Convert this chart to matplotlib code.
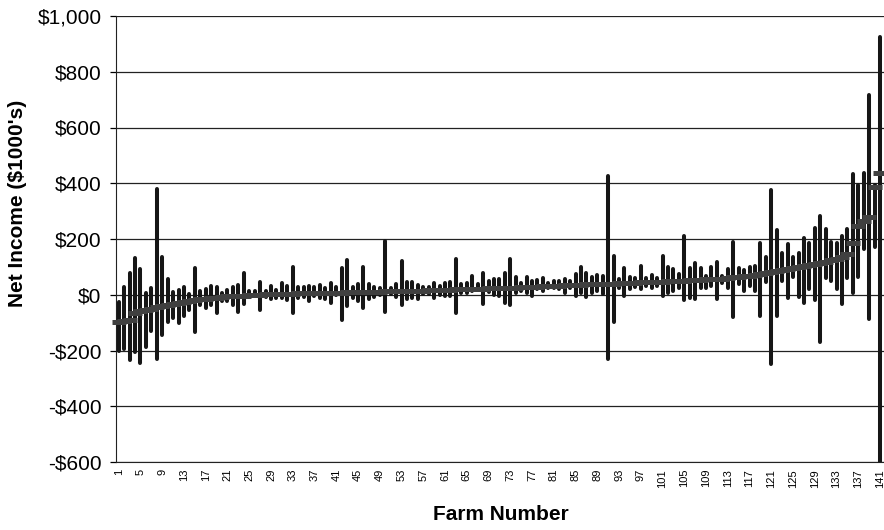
import matplotlib
matplotlib.use("Agg")
import matplotlib.pyplot as plt
from matplotlib.ticker import FuncFormatter, FixedLocator

plt.rcParams['font.family'] = ['Liberation Sans', 'DejaVu Sans']

farms = list(range(1, 142))

high = [-25, 29, 77, 132, 92, 8, 24, 380, 134, 56,
        11, 17, 29, 2, 96, 14, 20, 32, 29, 5,
        17, 29, 35, 77, 12, 12, 47, 14, 32, 17,
        41, 32, 98, 29, 29, 31, 29, 35, 26, 41,
        29, 96, 125, 29, 38, 98, 38, 29, 23, 192,
        23, 38, 122, 44, 44, 36, 29, 29, 41, 32,
        41, 44, 128, 38, 41, 68, 38, 77, 48, 56,
        56, 77, 128, 65, 41, 62, 50, 53, 60, 41,
        48, 48, 56, 50, 74, 101, 77, 62, 71, 66,
        425, 139, 56, 96, 65, 60, 104, 60, 72, 60,
        139, 98, 92, 74, 209, 96, 115, 95, 66, 98,
        116, 66, 92, 190, 95, 89, 98, 104, 184, 137,
        376, 232, 149, 182, 134, 149, 204, 184, 240, 284,
        236, 188, 184, 212, 236, 434, 392, 436, 715, 392,
        924]

low = [-200, -196, -235, -204, -244, -187, -130, -232, -144, -96,
       -84, -102, -76, -54, -132, -36, -49, -37, -64, -24,
       -22, -36, -61, -34, -5, -4, -55, -7, -16, -12,
       -12, -19, -67, -10, -7, -24, -4, -10, -16, -28,
       -2, -91, -40, -10, -24, -48, -16, -7, 0, -61,
       2, -7, -36, -16, -12, -14, 2, 2, -12, 0,
       -4, -4, -64, 8, 8, 12, 20, -34, 11, 0,
       -4, -28, -36, 8, 12, 8, -5, 20, 12, 24,
       26, 20, 8, 26, -4, 8, -7, 8, 14, 2,
       -230, -96, 26, -4, 20, 29, 20, 32, 26, 32,
       -4, 8, 12, 24, -19, -12, -16, 26, 26, 32,
       -16, 42, 26, -79, 38, 14, 32, 14, -75, 44,
       -249, -75, 50, -10, 65, -7, -31, 20, -19, -168,
       60, 50, 20, -34, 60, 5, 65, 164, -87, 173,
       -640]

mean = [-96, -95, -92, -65, -60, -55, -50, -44, -40, -36,
        -32, -28, -25, -22, -19, -16, -14, -12, -10, -8,
        -6, -5, -4, -3, -2, -1, 0, 1, 2, 3,
        3, 4, 4, 5, 5, 6, 6, 7, 7, 8,
        8, 8, 9, 9, 10, 10, 10, 11, 11, 12,
        12, 13, 13, 14, 14, 15, 15, 16, 16, 17,
        17, 18, 19, 19, 20, 21, 21, 22, 23, 23,
        24, 25, 26, 26, 27, 28, 29, 29, 30, 31,
        32, 33, 34, 35, 35, 36, 37, 38, 38, 39,
        40, 40, 41, 42, 42, 43, 44, 44, 45, 46,
        47, 48, 49, 50, 51, 52, 53, 54, 55, 56,
        57, 58, 60, 62, 64, 66, 68, 72, 75, 79,
        83, 86, 89, 93, 96, 100, 103, 107, 111, 115,
        119, 123, 128, 134, 145, 185, 245, 265, 280, 388,
        437]

x_tick_labels = [str(v) for v in range(1, 142, 4)]
y_ticks = [-600, -400, -200, 0, 200, 400, 600, 800, 1000]

fig = plt.figure(figsize=(8.84, 5.30), dpi=100)
ax = fig.add_axes([116/884, 1 - 462/530, 1 - 116/884, (462 - 16)/530])

ax.vlines(farms, low, high, colors='#161616', linewidth=2.9, zorder=3,
          capstyle='round')
ax.plot(farms, mean, linestyle='none', marker='_', markersize=10.5,
        markeredgewidth=3.6, color='#404040', zorder=4, clip_on=False)

ax.set_xlim(0.5, 141.72)
ax.set_ylim(-600, 1000)
ax.yaxis.set_major_locator(FixedLocator(y_ticks))
ax.yaxis.set_major_formatter(FuncFormatter(
    lambda v, p: ("-$" if v < 0 else "$") + f"{abs(int(v)):,}"))
ax.grid(axis='y', color='#222222', linewidth=0.9, zorder=0)
ax.set_axisbelow(True)

ax.set_xticks(list(range(1, 142, 4)))
ax.set_xticklabels(x_tick_labels, rotation=90, fontsize=8)
ax.tick_params(axis='x', length=0, pad=5)
ax.tick_params(axis='y', labelsize=15, length=4.5, width=0.9, direction='out', pad=6)

for s in ['top', 'right']:
    ax.spines[s].set_visible(False)
ax.spines['left'].set_color('#222222')
ax.spines['bottom'].set_color('#222222')

fig.text(18/884, 1 - 203/530, "Net Income ($1000's)", fontsize=15,
         fontweight='bold', rotation=90, ha='center', va='center')
fig.text(501/884, 1 - 515/530, "Farm Number", fontsize=15, fontweight='bold',
         ha='center', va='center')

fig.savefig("out.png", dpi=100)
